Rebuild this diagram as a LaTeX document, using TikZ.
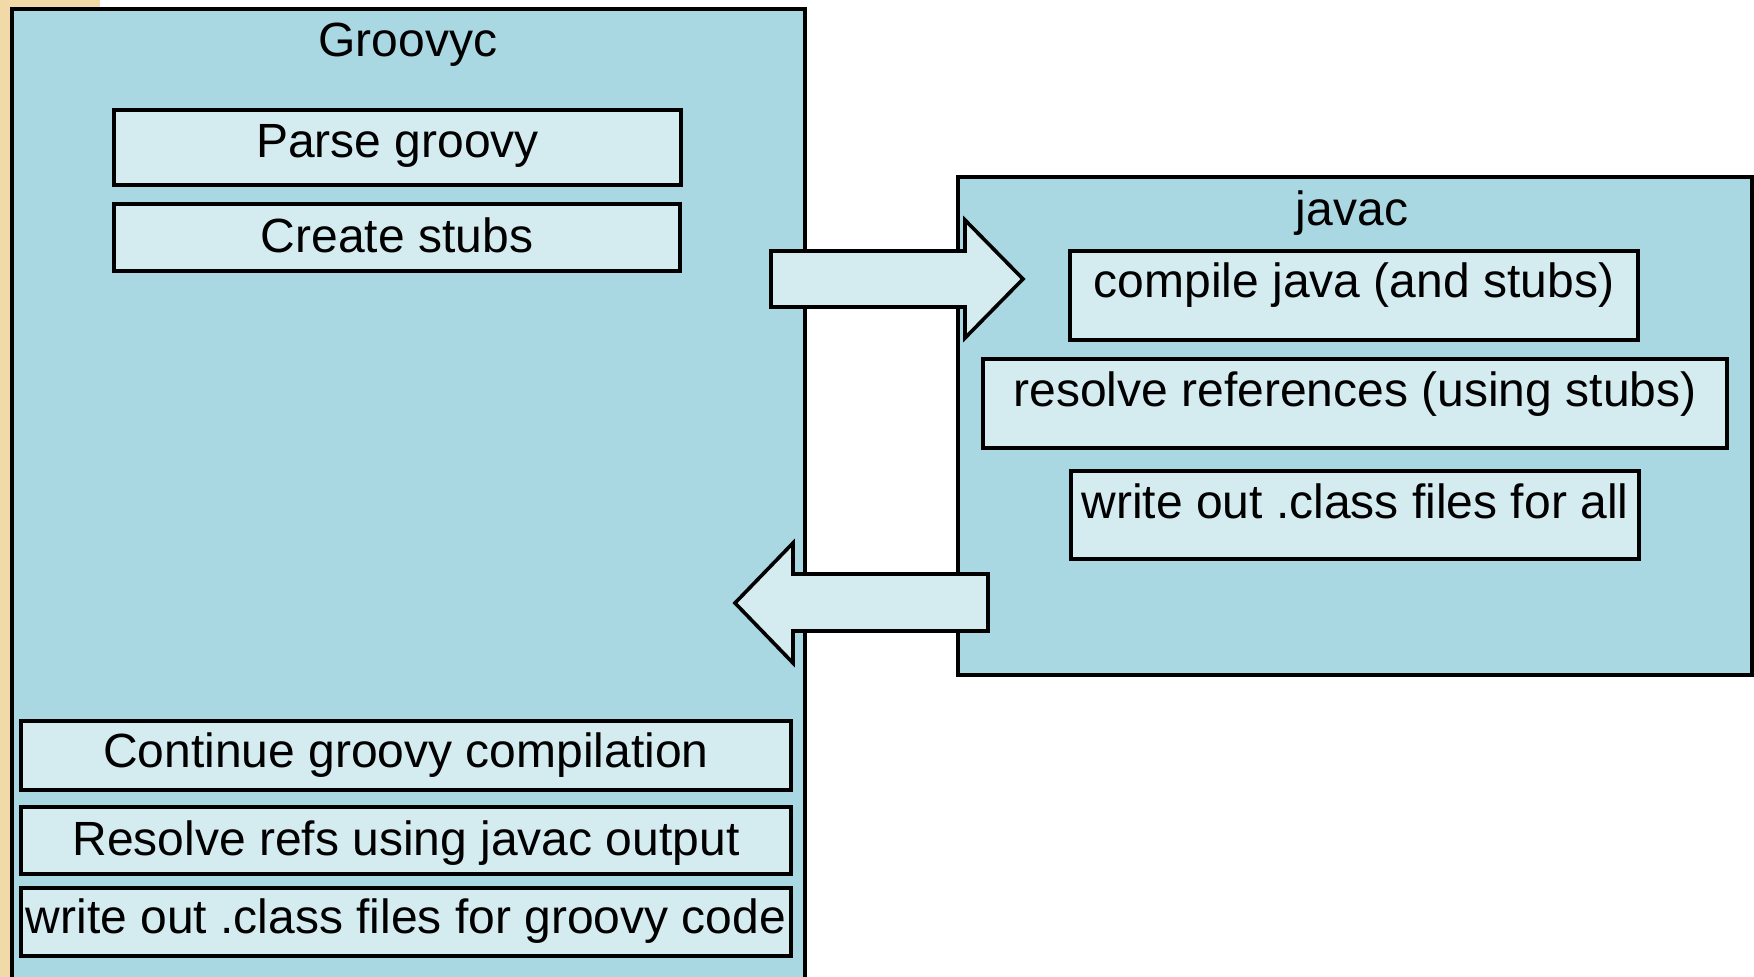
\documentclass[tikz,border=0pt]{standalone}
\usepackage{fontspec}
\setmainfont{Liberation Sans}
\definecolor{outerblue}{HTML}{A9D7E2}
\definecolor{innerblue}{HTML}{D4EBF0}
\definecolor{slidebeige}{HTML}{F2DAA8}
\begin{document}
\begin{tikzpicture}[x=1pt,y=-1pt,
  font=\fontsize{48}{58}\selectfont,
  panel/.style={draw=black, line width=3.6pt, fill=outerblue, anchor=north west, outer sep=0pt, inner sep=0pt},
  stepbox/.style={draw=black, line width=3.6pt, fill=innerblue, anchor=north west, outer sep=0pt, inner xsep=0pt, inner ysep=0pt, align=center},
  titletext/.style={anchor=base, inner sep=0pt},
  blockarrow/.style={draw=black, line width=3.6pt, fill=innerblue, line join=miter}]
\useasboundingbox (0,0) rectangle (1754,977);
\fill[slidebeige] (0,0) rectangle (100,977);
% panels
\node[panel, minimum width=793pt, minimum height=1000pt] (groovyc) at (12,9) {};
\node[panel, minimum width=794pt, minimum height=498pt] (javac) at (958,177) {};
\node[titletext] (groovyctitle) at (408,56) {Groovyc};
\node[titletext] (javactitle) at (1352,225) {javac};
% groovyc steps
\node[stepbox, minimum width=567pt, text height=47pt, text depth=28pt] (parse) at (114,110) {Parse groovy};
\node[stepbox, minimum width=566pt, text height=48pt, text depth=19pt] (stubs) at (114,204) {Create stubs};
\node[stepbox, minimum width=770pt, text height=46pt, text depth=23pt] (cont) at (21,721) {Continue groovy compilation};
\node[stepbox, minimum width=770pt, text height=48pt, text depth=19pt] (resolve) at (21,807) {Resolve refs using javac output};
\node[stepbox, minimum width=770pt, text height=45pt, text depth=23pt] (writeg) at (21,888) {write out .class files for groovy code};
% javac steps
\node[stepbox, minimum width=568pt, text height=46pt, text depth=43pt] (compile) at (1070,251) {compile java (and stubs)};
\node[stepbox, minimum width=744pt, text height=47pt, text depth=42pt] (resolvej) at (983,359) {resolve references (using stubs)};
\node[stepbox, minimum width=568pt, text height=47pt, text depth=41pt] (writej) at (1071,471) {write out .class files for all};
% block arrows
\draw[blockarrow] (771,251) -- (965,251) -- (965,220) -- (1023,279) -- (965,338) -- (965,307) -- (771,307) -- cycle;
\draw[blockarrow] (988,574) -- (793,574) -- (793,543) -- (735,603) -- (793,663) -- (793,631) -- (988,631) -- cycle;
\end{tikzpicture}
\end{document}
